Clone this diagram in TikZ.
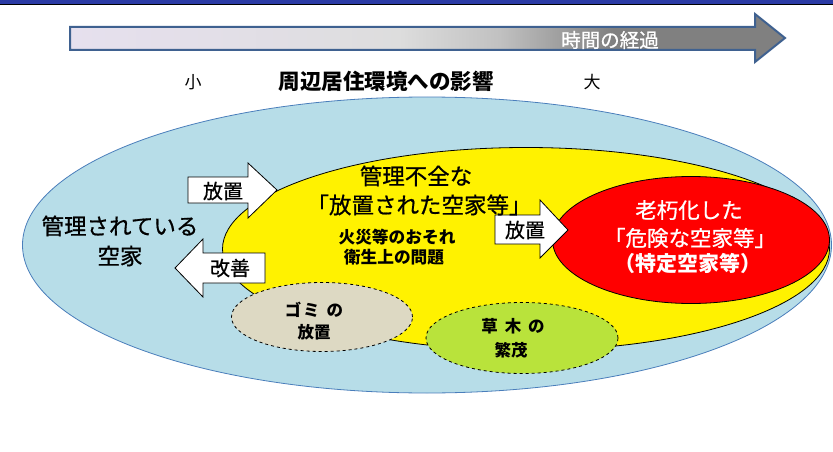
\documentclass[tikz,border=0pt]{standalone}
\usepackage{fontspec}
\setmainfont{Noto Sans CJK JP}
\newfontfamily\medfont[FakeBold=0.7]{Noto Sans CJK JP}
\usetikzlibrary{shapes.geometric}
\definecolor{navy}{HTML}{2B3BA5}
\definecolor{lav}{HTML}{E6E0EE}
\definecolor{lgray}{HTML}{DDDDDD}
\definecolor{dgray}{HTML}{808080}
\definecolor{arrowedge}{HTML}{3F6190}
\definecolor{lblue}{HTML}{B7DDE8}
\definecolor{bedge}{HTML}{4A7EBB}
\definecolor{gfill}{HTML}{DDD9C3}
\definecolor{grfill}{HTML}{B9E33B}
\pgfdeclarehorizontalshading{timeshade}{100bp}{color(0bp)=(lav); color(25bp)=(lav); color(36bp)=(lav!60!lgray); color(48bp)=(lgray); color(55bp)=(lgray!70!dgray); color(63bp)=(dgray); color(100bp)=(dgray)}
\tikzset{
  oval/.style={ellipse, inner sep=0pt},
  dashoval/.style={ellipse, inner sep=0pt, draw=black, dashed, line width=0.8pt},
  bigtxt/.style={font=\fontsize{22.5}{24}\medfont, align=center, inner sep=0pt},
  whitetxt/.style={font=\fontsize{21.5}{24}\medfont, text=white, align=center, inner sep=0pt},
  boxarrow/.style={draw=black, fill=white, line width=0.8pt},
  arrtxt/.style={font=\fontsize{20}{22}\medfont, inner sep=0pt},
  smalltxt/.style={font=\fontsize{16.7}{18}\selectfont\bfseries, inner sep=0pt},
  ovtxt/.style={font=\fontsize{16.5}{18}\selectfont\bfseries, inner sep=0pt},
}
\begin{document}
\begin{tikzpicture}[x=1pt,y=-1pt]
\useasboundingbox (0,0) rectangle (833,452);
\fill[white] (0,0) rectangle (833,452);
% top band
\fill[navy] (0,0) rectangle (833,3.6);
\fill[black] (0,3.6) rectangle (833,5.4);
% time arrow
\draw[arrowedge, line width=2pt, shading=timeshade] (70,27) -- (755,27) -- (755,14) -- (785,38) -- (755,62) -- (755,50) -- (70,50) -- cycle;
\node[font=\fontsize{19.5}{21}\medfont, text=white, inner sep=0pt] (time) at (610,40) {時間の経過};
% scale labels
\node[font=\fontsize{17}{19}\selectfont, inner sep=0pt] (small) at (193,82) {小};
\node[font=\fontsize{21.5}{23}\selectfont\bfseries, inner sep=0pt] (impact) at (386,81) {周辺居住環境への影響};
\node[font=\fontsize{17}{19}\selectfont, inner sep=0pt] (large) at (592,82) {大};
% ellipses
\node[oval, draw=bedge, fill=lblue, line width=0.8pt, minimum width=809pt, minimum height=296pt] (outer) at (427,245) {};
\node[oval, draw=black, fill=yellow, line width=0.8pt, minimum width=607pt, minimum height=203pt] (mid) at (526,249) {};
\node[oval, draw=black, fill=red, line width=0.8pt, minimum width=277pt, minimum height=127pt] (inner) at (691,240) {};
\node[dashoval, fill=gfill, minimum width=181pt, minimum height=69pt] (trash) at (322,317) {};
\node[dashoval, fill=grfill, minimum width=192pt, minimum height=71pt] (weeds) at (522,338) {};
% arrows
\draw[boxarrow] (188,177) -- (248,177) -- (248,163) -- (277,190) -- (248,218) -- (248,203) -- (188,203) -- cycle;
\node[arrtxt] (a1) at (223,191) {放置};
\draw[boxarrow] (265,253) -- (203,253) -- (203,239) -- (175,268) -- (203,297) -- (203,283) -- (265,283) -- cycle;
\node[arrtxt] (a2) at (230,268) {改善};
\draw[boxarrow] (495,215) -- (540,215) -- (540,200) -- (568,230) -- (540,258) -- (540,244) -- (495,244) -- cycle;
\node[arrtxt] (a3) at (525,230) {放置};
% texts
\node[bigtxt] (t1) at (120,226) {管理されている};
\node[bigtxt] (t2) at (120,256) {空家};
\node[bigtxt] (t3) at (416,176) {管理不全な};
\node[bigtxt] (t4) at (419,205) {「放置された空家等」};
\node[smalltxt] (t5) at (397,237) {火災等のおそれ};
\node[smalltxt] (t6) at (394,257) {衛生上の問題};
\node[whitetxt] (t7) at (689,210) {老朽化した};
\node[whitetxt] (t8) at (690,238) {「危険な空家等」};
\node[whitetxt, font=\fontsize{21}{23}\selectfont\bfseries] (t9) at (688,263) {（特定空家等）};
\node[ovtxt] (t10) at (314,310) {ゴ\hspace{2pt}ミ\hspace{7pt}の};
\node[ovtxt] (t11) at (314,332) {放置};
\node[ovtxt] (t12) at (513,326) {草\hspace{7pt}木\hspace{7pt}の};
\node[ovtxt] (t13) at (511,350) {繁茂};
\end{tikzpicture}
\end{document}
